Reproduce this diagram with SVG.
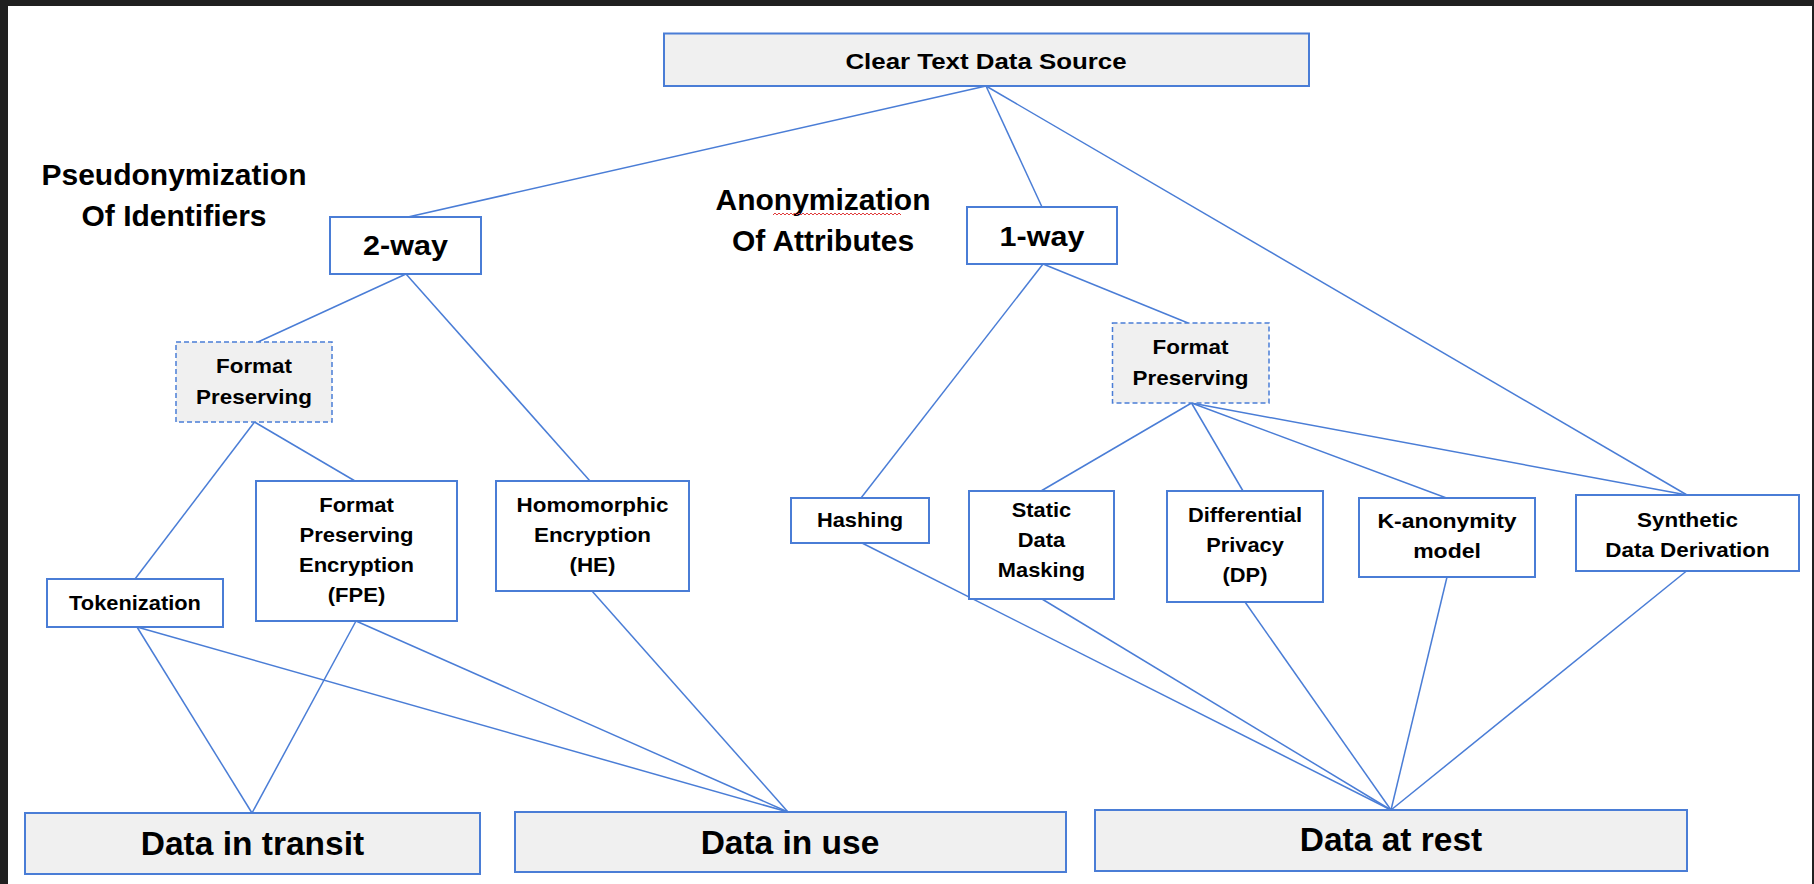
<svg xmlns="http://www.w3.org/2000/svg" width="1814" height="884" viewBox="0 0 1814 884">
<style>
.box{fill:#ffffff;stroke:#4a7dd6;stroke-width:2}
.gray{fill:#f0f0f0;stroke:#4a7dd6;stroke-width:2}
.dash{fill:#f0f0f0;stroke:#4a7dd6;stroke-width:1.5;stroke-dasharray:5 3}
#connectors line{stroke:#4a7dd6;stroke-width:1.5;fill:none}
text{font-family:"Liberation Sans",Arial,sans-serif;font-weight:bold;fill:#000;text-anchor:middle}
.n{font-size:19.5px}
.way{font-size:28px}
.sec{font-size:29px}
.big{font-size:33.5px}
.title{font-size:22.5px}
</style>
<rect x="0" y="0" width="1814" height="884" fill="#202020"/>
<rect x="8" y="6" width="1804" height="878" fill="#ffffff"/>

<g id="connectors">
<line x1="986" y1="86" x2="408" y2="217"/>
<line x1="986" y1="86" x2="1042" y2="207"/>
<line x1="986" y1="86" x2="1687" y2="495"/>
<line x1="406" y1="274" x2="258" y2="342"/>
<line x1="406" y1="274" x2="590" y2="481"/>
<line x1="254.5" y1="422" x2="135" y2="579"/>
<line x1="254.5" y1="422" x2="355" y2="481"/>
<line x1="137" y1="627" x2="252" y2="813"/>
<line x1="137" y1="627" x2="788" y2="812"/>
<line x1="356" y1="621" x2="252" y2="813"/>
<line x1="356" y1="621" x2="788" y2="812"/>
<line x1="592" y1="591" x2="788" y2="812"/>
<line x1="1043" y1="264" x2="861" y2="498"/>
<line x1="1043" y1="264" x2="1188" y2="323"/>
<line x1="1191.5" y1="403" x2="1041" y2="491"/>
<line x1="1191.5" y1="403" x2="1243" y2="491"/>
<line x1="1191.5" y1="403" x2="1446.5" y2="498"/>
<line x1="1191.5" y1="403" x2="1687" y2="495"/>
<line x1="862" y1="543" x2="1391" y2="810"/>
<line x1="1042" y1="599" x2="1391" y2="810"/>
<line x1="1245" y1="602" x2="1391" y2="810"/>
<line x1="1447" y1="577" x2="1391" y2="810"/>
<line x1="1686.5" y1="571" x2="1391" y2="810"/>
</g>

<g id="label-pseudonymization">
<g transform="translate(174,0) scale(1.035,1)">
<text class="sec" x="0" y="185">Pseudonymization</text>
<text class="sec" x="0" y="226">Of Identifiers</text>
</g>
</g>

<g id="label-anonymization">
<g transform="translate(823,0) scale(1.035,1)">
<text class="sec" x="0" y="210">Anonymization</text>
<text class="sec" x="0" y="251">Of Attributes</text>
</g>
<path d="M773 215l2-2 2 2 2-2 2 2 2-2 2 2 2-2 2 2 2-2 2 2 2-2 2 2 2-2 2 2 2-2 2 2 2-2 2 2 2-2 2 2 2-2 2 2 2-2 2 2 2-2 2 2 2-2 2 2 2-2 2 2 2-2 2 2 2-2 2 2 2-2 2 2 2-2 2 2 2-2 2 2 2-2 2 2 2-2 2 2 2-2 2 2 2-2 2 2 2-2 2 2 2-2 2 2 2-2 2 2 2-2 2 2 2-2 2 2 2-2 2 2 2-2 2 2 2-2 2 2" fill="none" stroke="#e03c3c" stroke-width="1"/>
</g>

<g id="node-source">
<rect class="gray" x="664" y="33.5" width="645" height="52.5"/>
<g transform="translate(986,0) scale(1.15,1)"><text class="title" x="0" y="69.5">Clear Text Data Source</text></g>
</g>

<g id="node-2way">
<rect class="box" x="330" y="217" width="151" height="57"/>
<g transform="translate(405.5,0) scale(1.09,1)"><text class="way" x="0" y="255">2-way</text></g>
</g>

<g id="node-1way">
<rect class="box" x="967" y="207" width="150" height="57"/>
<g transform="translate(1042,0) scale(1.09,1)"><text class="way" x="0" y="246">1-way</text></g>
</g>

<g id="node-fp-left">
<rect class="dash" x="176" y="342" width="156" height="80"/>
<g transform="translate(254,0) scale(1.15,1)">
<text class="n" x="0" y="373.5">Format</text>
<text class="n" x="0" y="404.5">Preserving</text>
</g>
</g>

<g id="node-fp-right">
<rect class="dash" x="1112.5" y="323" width="156.5" height="80"/>
<g transform="translate(1190.5,0) scale(1.15,1)">
<text class="n" x="0" y="354">Format</text>
<text class="n" x="0" y="385">Preserving</text>
</g>
</g>

<g id="node-tokenization">
<rect class="box" x="47" y="579" width="176" height="48"/>
<g transform="translate(135,0) scale(1.12,1)"><text class="n" x="0" y="610">Tokenization</text></g>
</g>

<g id="node-fpe">
<rect class="box" x="256" y="481" width="201" height="140"/>
<g transform="translate(356.5,0) scale(1.13,1)">
<text class="n" x="0" y="512">Format</text>
<text class="n" x="0" y="542">Preserving</text>
<text class="n" x="0" y="572">Encryption</text>
<text class="n" x="0" y="602">(FPE)</text>
</g>
</g>

<g id="node-he">
<rect class="box" x="496" y="481" width="193" height="110"/>
<g transform="translate(592.5,0) scale(1.15,1)">
<text class="n" x="0" y="512">Homomorphic</text>
<text class="n" x="0" y="542">Encryption</text>
<text class="n" x="0" y="572">(HE)</text>
</g>
</g>

<g id="node-hashing">
<rect class="box" x="791" y="498" width="138" height="45"/>
<g transform="translate(860,0) scale(1.12,1)"><text class="n" x="0" y="527.5">Hashing</text></g>
</g>

<g id="node-sdm">
<rect class="box" x="969" y="491" width="145" height="108"/>
<g transform="translate(1041.5,0) scale(1.12,1)">
<text class="n" x="0" y="517">Static</text>
<text class="n" x="0" y="547">Data</text>
<text class="n" x="0" y="577">Masking</text>
</g>
</g>

<g id="node-dp">
<rect class="box" x="1167" y="491" width="156" height="111"/>
<g transform="translate(1245,0) scale(1.12,1)">
<text class="n" x="0" y="522">Differential</text>
<text class="n" x="0" y="552">Privacy</text>
<text class="n" x="0" y="582">(DP)</text>
</g>
</g>

<g id="node-kanon">
<rect class="box" x="1359" y="498" width="176" height="79"/>
<g transform="translate(1447,0) scale(1.18,1)">
<text class="n" x="0" y="528.5">K-anonymity</text>
<text class="n" x="0" y="558.5">model</text>
</g>
</g>

<g id="node-synthetic">
<rect class="box" x="1576" y="495" width="223" height="76"/>
<g transform="translate(1687.5,0) scale(1.15,1)">
<text class="n" x="0" y="527">Synthetic</text>
<text class="n" x="0" y="557">Data Derivation</text>
</g>
</g>

<g id="node-transit">
<rect class="gray" x="25" y="813" width="455" height="61"/>
<text class="big" x="252.5" y="855">Data in transit</text>
</g>

<g id="node-use">
<rect class="gray" x="515" y="812" width="551" height="60"/>
<text class="big" x="790" y="854">Data in use</text>
</g>

<g id="node-rest">
<rect class="gray" x="1095" y="810" width="592" height="61"/>
<text class="big" x="1391" y="851">Data at rest</text>
</g>
</svg>
